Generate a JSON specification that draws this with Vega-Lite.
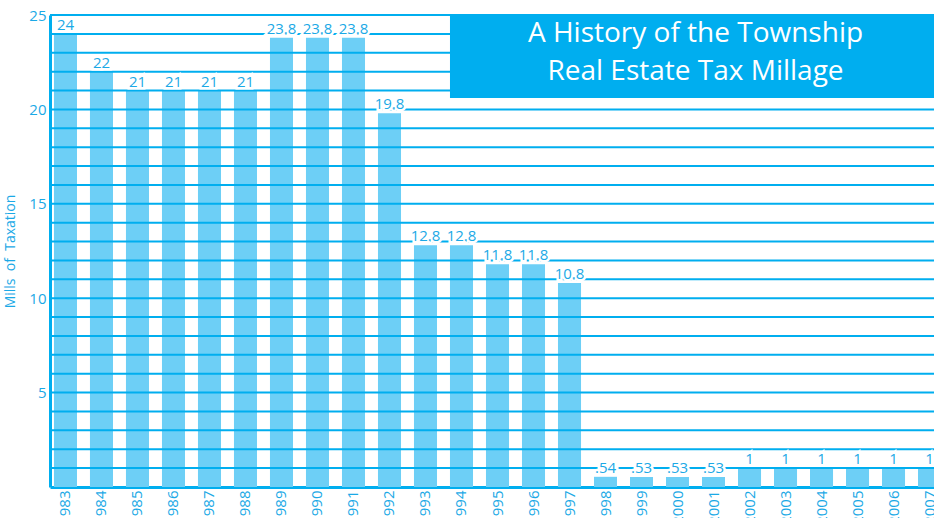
{
  "$schema": "https://vega.github.io/schema/vega-lite/v6.json",
  "width": 884,
  "height": 472,
  "autosize": {"type": "none"},
  "padding": {"left": 50, "top": 15, "right": 0, "bottom": 31},
  "background": "white",
  "config": {"view": {"stroke": null}, "font": "Open Sans"},
  "data": {
    "values": [
      {"year": "1983", "value": 24, "label": "24"},
      {"year": "1984", "value": 22, "label": "22"},
      {"year": "1985", "value": 21, "label": "21"},
      {"year": "1986", "value": 21, "label": "21"},
      {"year": "1987", "value": 21, "label": "21"},
      {"year": "1988", "value": 21, "label": "21"},
      {"year": "1989", "value": 23.8, "label": "23.8"},
      {"year": "1990", "value": 23.8, "label": "23.8"},
      {"year": "1991", "value": 23.8, "label": "23.8"},
      {"year": "1992", "value": 19.8, "label": "19.8"},
      {"year": "1993", "value": 12.8, "label": "12.8"},
      {"year": "1994", "value": 12.8, "label": "12.8"},
      {"year": "1995", "value": 11.8, "label": "11.8"},
      {"year": "1996", "value": 11.8, "label": "11.8"},
      {"year": "1997", "value": 10.8, "label": "10.8"},
      {"year": "1998", "value": 0.54, "label": ".54"},
      {"year": "1999", "value": 0.53, "label": ".53"},
      {"year": "2000", "value": 0.53, "label": ".53"},
      {"year": "2001", "value": 0.53, "label": ".53"},
      {"year": "2002", "value": 1, "label": "1"},
      {"year": "2003", "value": 1, "label": "1"},
      {"year": "2004", "value": 1, "label": "1"},
      {"year": "2005", "value": 1, "label": "1"},
      {"year": "2006", "value": 1, "label": "1"},
      {"year": "2007", "value": 1, "label": "1"}
    ]
  },
  "layer": [
    {
      "mark": {"type": "bar", "color": "#6dcff6"},
      "encoding": {
        "x": {
          "field": "year", "type": "nominal", "sort": null,
          "scale": {"range": [0, 895], "paddingInner": 0.36, "paddingOuter": 0.11},
          "axis": {
            "title": null, "labelAngle": -90, "labelFontSize": 15, "labelColor": "#1ba9e6",
            "labelPadding": 3, "ticks": false, "domainColor": "#00aeef", "domainWidth": 3,
            "grid": false, "labelOverlap": false, "labelFont": "Open Sans"
          }
        },
        "y": {
          "field": "value", "type": "quantitative",
          "scale": {"domain": [0, 25], "nice": false},
          "axis": {
            "values": [5, 10, 15, 20, 25], "title": "Mills\u00a0\u00a0of\u00a0\u00a0Taxation", "titleFontSize": 14,
            "titleFontWeight": "normal", "titleColor": "#1ba9e6", "titlePadding": 11,
            "labelFontSize": 15, "labelColor": "#1ba9e6", "labelPadding": 4, "ticks": false,
            "domainColor": "#00aeef", "domainWidth": 3, "grid": false, "labelFont": "Open Sans", "titleFont": "Open Sans"
          }
        }
      }
    },
    {
      "data": {"values": [
        {"g": 1}, {"g": 2}, {"g": 3}, {"g": 4}, {"g": 5}, {"g": 6}, {"g": 7}, {"g": 8}, {"g": 9}, {"g": 10},
        {"g": 11}, {"g": 12}, {"g": 13}, {"g": 14}, {"g": 15}, {"g": 16}, {"g": 17}, {"g": 18}, {"g": 19}, {"g": 20},
        {"g": 21}, {"g": 22}, {"g": 23}, {"g": 24}, {"g": 25}
      ]},
      "mark": {"type": "rule", "color": "#00aeef", "strokeWidth": 2},
      "encoding": {"y": {"field": "g", "type": "quantitative"}}
    },
    {
      "data": {"values": [{"t": "A History of the Township\nReal Estate Tax Millage"}]},
      "mark": {"type": "rect", "color": "#00aeef"},
      "encoding": {
        "x": {"datum": "1994", "type": "nominal", "bandPosition": 0},
        "x2": {"datum": "2007", "bandPosition": 1},
        "y": {"datum": 25, "type": "quantitative"},
        "y2": {"datum": 20.6}
      }
    },
    {
      "mark": {"type": "text", "fill": "white", "stroke": "white", "strokeWidth": 5, "fontSize": 15, "baseline": "alphabetic", "dy": -4},
      "encoding": {
        "x": {"field": "year", "type": "nominal", "sort": null},
        "y": {"field": "value", "type": "quantitative"},
        "text": {"field": "label"}
      }
    },
    {
      "mark": {"type": "text", "color": "#1ba9e6", "fontSize": 15, "baseline": "alphabetic", "dy": -4},
      "encoding": {
        "x": {"field": "year", "type": "nominal", "sort": null},
        "y": {"field": "value", "type": "quantitative"},
        "text": {"field": "label"}
      }
    },
    {
      "data": {"values": [{"t": "A History of the Township\nReal Estate Tax Millage"}]},
      "mark": {"type": "text", "color": "white", "fontSize": 28, "lineBreak": "\n", "lineHeight": 38, "baseline": "alphabetic", "align": "center", "dx": 18},
      "encoding": {
        "x": {"datum": "2000", "type": "nominal"},
        "y": {"datum": 23.55, "type": "quantitative"},
        "text": {"field": "t"}
      }
    }
  ]
}
